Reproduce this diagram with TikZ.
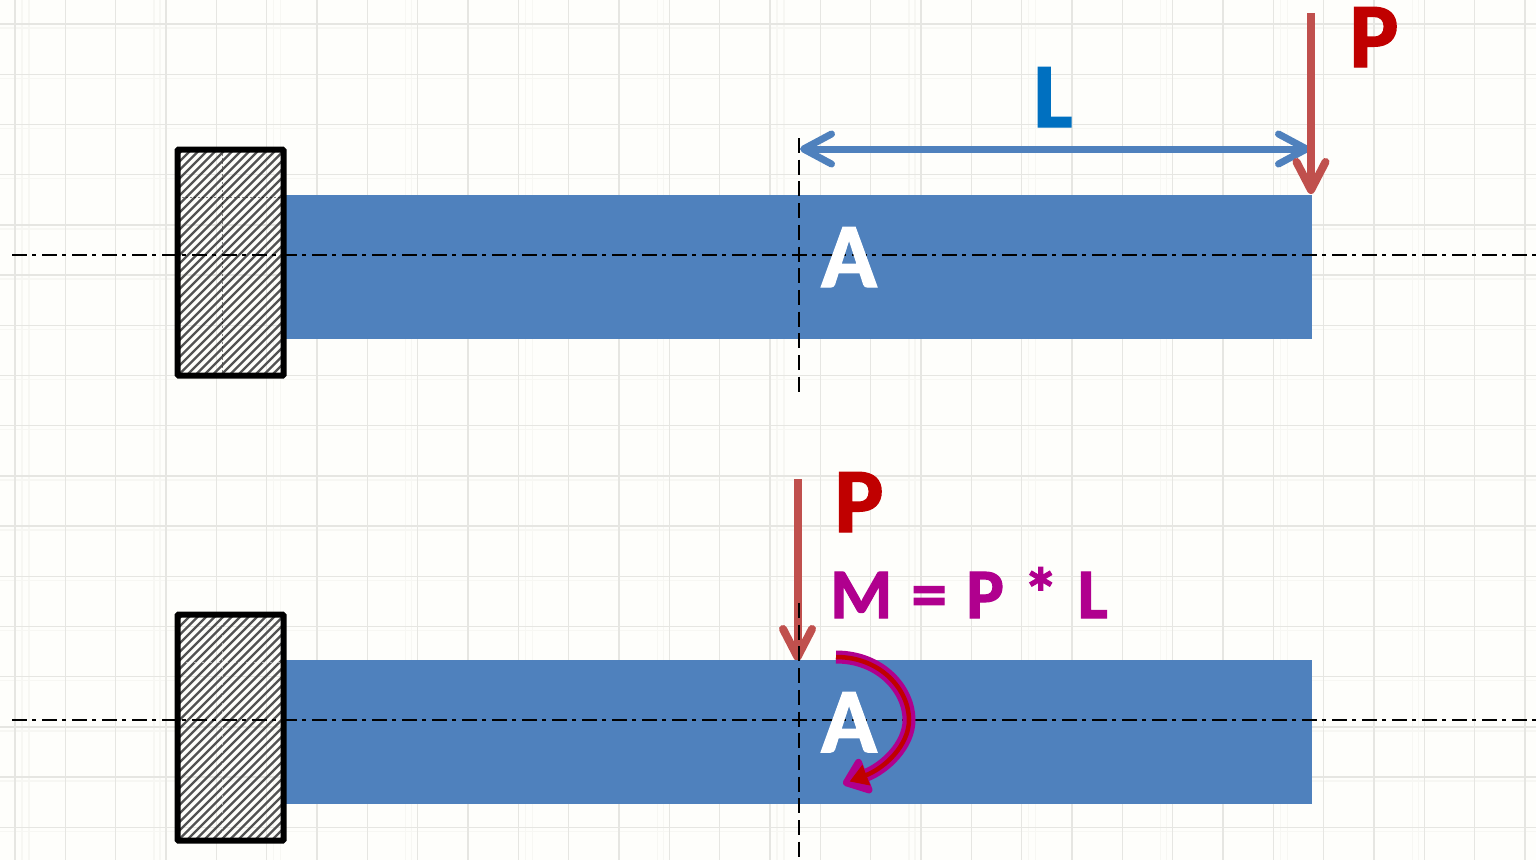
\documentclass[tikz,border=0pt]{standalone}
\usepackage{fontspec}
\setmainfont{Carlito}[BoldFeatures={FakeBold=1.6}]
\newfontfamily\momentfont{Carlito}[WordSpace=1.2, BoldFeatures={FakeBold=1.6}]
\usetikzlibrary{arrows.meta}
\definecolor{paperbg}{HTML}{FEFEFB}
\definecolor{gridline}{HTML}{E6E6E2}
\definecolor{gridfaint}{HTML}{F7F7F3}
\definecolor{beamblue}{HTML}{4F81BD}
\definecolor{forcered}{HTML}{C0504D}
\definecolor{labelred}{HTML}{C00000}
\definecolor{labelblue}{HTML}{0070C0}
\definecolor{momentpurple}{HTML}{B0008E}
\tikzset{
  bigtext/.style={font=\fontsize{92}{92}\selectfont\bfseries, inner sep=0pt, anchor=base},
  momenttext/.style={font=\momentfont\fontsize{71}{71}\selectfont\bfseries, inner sep=0pt, anchor=base west},
  axisline/.style={line width=2pt, dash pattern=on 15pt off 5pt on 4pt off 6pt},
  sectionline/.style={line width=1.6pt, dash pattern=on 15pt off 6.7pt},
  griddots/.style={line width=.8pt, opacity=.5, dash pattern=on 1.5pt off 2.5pt},
  forcearrow/.style={line width=8pt, color=forcered, -{Straight Barb[round, length=28pt, width=29pt, line width=8pt]},
    preaction={draw=black, opacity=.12, transform canvas={shift={(2pt,-2pt)}}}},
  lengtharrow/.style={line width=7pt, color=beamblue, {Straight Barb[round, length=28pt, width=30pt, line width=7pt]}-{Straight Barb[round, length=28pt, width=30pt, line width=7pt]},
    preaction={draw=black, opacity=.12, transform canvas={shift={(2pt,-2pt)}}}}
}
\begin{document}
\begin{tikzpicture}[x=1pt,y=-1pt]
  \path[use as bounding box, fill=paperbg] (0,0) rectangle (1536,860);
  % grid
  \foreach \n in {0,...,5}
    \foreach \dx in {7,14,139,145}
      \draw[gridfaint, line width=1.4pt] (15+\dx+251.65*\n,0) -- (15+\dx+251.65*\n,860);
  \foreach \n in {0,...,16}
    \draw[gridfaint, line width=1.4pt] (0,28+50.2*\n) -- (1536,28+50.2*\n);
  \foreach \n in {0,...,30}
    \draw[gridline, line width=1.4pt] (15+50.33*\n,0) -- (15+50.33*\n,860);
  \foreach \n in {0,...,16}
    \draw[gridline, line width=1.4pt] (0,24+50.2*\n) -- (1536,24+50.2*\n);
  % loads
  \coordinate (loadtopA) at (1311,13);
  \coordinate (loadtopB) at (1311,194);
  \coordinate (loadlowA) at (797.5,479);
  \coordinate (loadlowB) at (797.5,661);
  \draw[forcearrow] (loadlowA) -- (loadlowB);
  % the two beams
  \foreach \yy/\nm/\dotcol in {0/top/black,465/low/white} {
    \node[fill=beamblue, minimum width=1026pt, minimum height=144pt, inner sep=0pt, anchor=north west] (beam\nm) at (286,195+\yy) {};
    \begin{scope}
      \clip (177.5,149.5+\yy) rectangle (283.5,375.5+\yy);
      \foreach \x in {-60,-51.5,...,300}
        \draw[black!68, line width=2.4pt] (\x,375.5+\yy) -- (\x+226,149.5+\yy);
      \draw[griddots, \dotcol] (222,150+\yy) -- (222,375+\yy);
      \draw[griddots, \dotcol] (178,197+\yy) -- (283,197+\yy);
    \end{scope}
    \draw[line width=6pt, rounded corners=1pt] (177.5,149.5+\yy) rectangle (283.5,375.5+\yy);
    \coordinate (axis\nm W) at (12,255+\yy);
    \coordinate (axis\nm E) at (1536,255+\yy);
    \draw[axisline] (axis\nm W) -- (axis\nm E);
    \coordinate (cut\nm N) at (799,138+\yy);
    \coordinate (cut\nm S) at (799,395+\yy);
    \draw[sectionline] (cut\nm N) -- (cut\nm S);
    \node[bigtext, white] (sec\nm) at (849,287+\yy) {A};
  }
  % span and labels
  \coordinate (spanA) at (800,149);
  \coordinate (spanB) at (1310,149);
  \draw[lengtharrow] (spanA) -- (spanB);
  \draw[forcearrow] (loadtopA) -- (loadtopB);
  \node[bigtext, labelblue] (lenlabel) at (1053,127) {L};
  \node[bigtext, labelred] (ptop) at (1374,67) {P};
  \node[bigtext, labelred] (plow) at (859,532) {P};
  \node[momenttext, momentpurple] (mlabel) at (830,618) {M = P * L};
  % moment
  \coordinate (momA) at (836,657);
  \coordinate (momB) at (843,784);
  \draw[line width=4.5pt, labelred, shorten >=7pt, -{Triangle[length=18pt, width=21pt]},
    preaction={draw=momentpurple, line width=13pt, shorten >=0pt, -{Triangle[round, length=28pt, width=42pt]}}]
    (momA) .. controls (881,657) and (909,690) .. (909,720)
    .. controls (909,745) and (885,768) .. (momB);
\end{tikzpicture}
\end{document}
